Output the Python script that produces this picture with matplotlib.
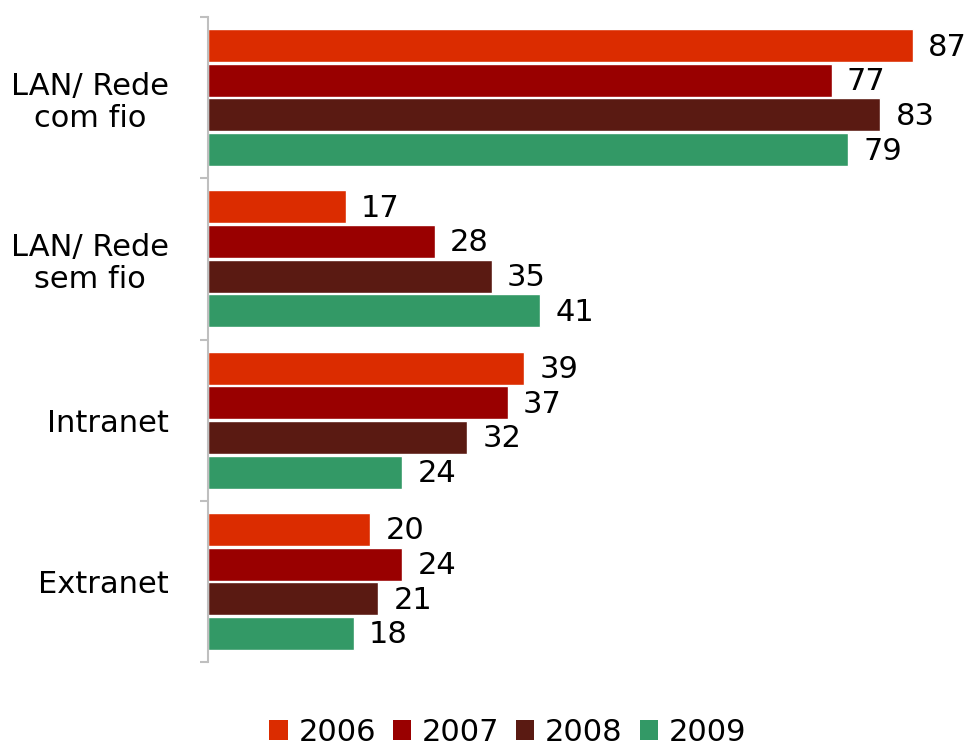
import matplotlib
matplotlib.use("Agg")
import matplotlib.pyplot as plt
from matplotlib.patches import Patch
import numpy as np

categories = ["LAN/ Rede\ncom fio", "LAN/ Rede\nsem fio", "Intranet", "Extranet"]
years = ["2006", "2007", "2008", "2009"]
values = {
    "2006": [87, 17, 39, 20],
    "2007": [77, 28, 37, 24],
    "2008": [83, 35, 32, 21],
    "2009": [79, 41, 24, 18],
}
colors = ["#DB2C00", "#990000", "#5A1A12", "#339966"]

plt.rcParams["font.family"] = ["DejaVu Sans"]
fig = plt.figure(figsize=(9.69, 7.51), dpi=100)
ax = fig.add_axes([208 / 969, 1 - 662 / 751, 1 - 208 / 969, (662 - 17) / 751])

y = np.arange(len(categories))
step = 0.215
height = 0.205
for i, (yr, c) in enumerate(zip(years, colors)):
    pos = y + (i - 1.5) * step
    bars = ax.barh(pos, values[yr], height=height, color=c,
                   edgecolor="white", linewidth=1.0)
    for b, v in zip(bars, values[yr]):
        ax.annotate(str(v), (b.get_width(), b.get_y() + b.get_height() / 2),
                    xytext=(11, -1), textcoords="offset points",
                    va="center", ha="left", fontsize=22, color="black")

ax.set_xlim(0, 761 / 8.1)
ax.set_ylim(len(categories) - 0.5, -0.5)

for s in ["top", "right", "bottom"]:
    ax.spines[s].set_visible(False)
ax.spines["left"].set_color("#BFBFBF")
ax.spines["left"].set_linewidth(1.5)
ax.set_xticks([])

ax.set_yticks(y)
ax.set_yticklabels(categories, fontsize=22, multialignment="center", linespacing=1.15)
ax.tick_params(axis="y", which="major", length=0, pad=28)
ax.set_yticks(np.arange(-0.5, len(categories)), minor=True)
ax.tick_params(axis="y", which="minor", length=6, width=1.5, color="#BFBFBF")

handles = [Patch(facecolor=c, edgecolor="none", label=yr) for yr, c in zip(years, colors)]
fig.legend(handles=handles, loc="lower center", bbox_to_anchor=(0.524, -0.031),
           ncol=4, frameon=False, fontsize=22, handlelength=0.6, handleheight=0.6,
           handletextpad=0.35, columnspacing=0.55)

fig.savefig("out.png", dpi=100)
